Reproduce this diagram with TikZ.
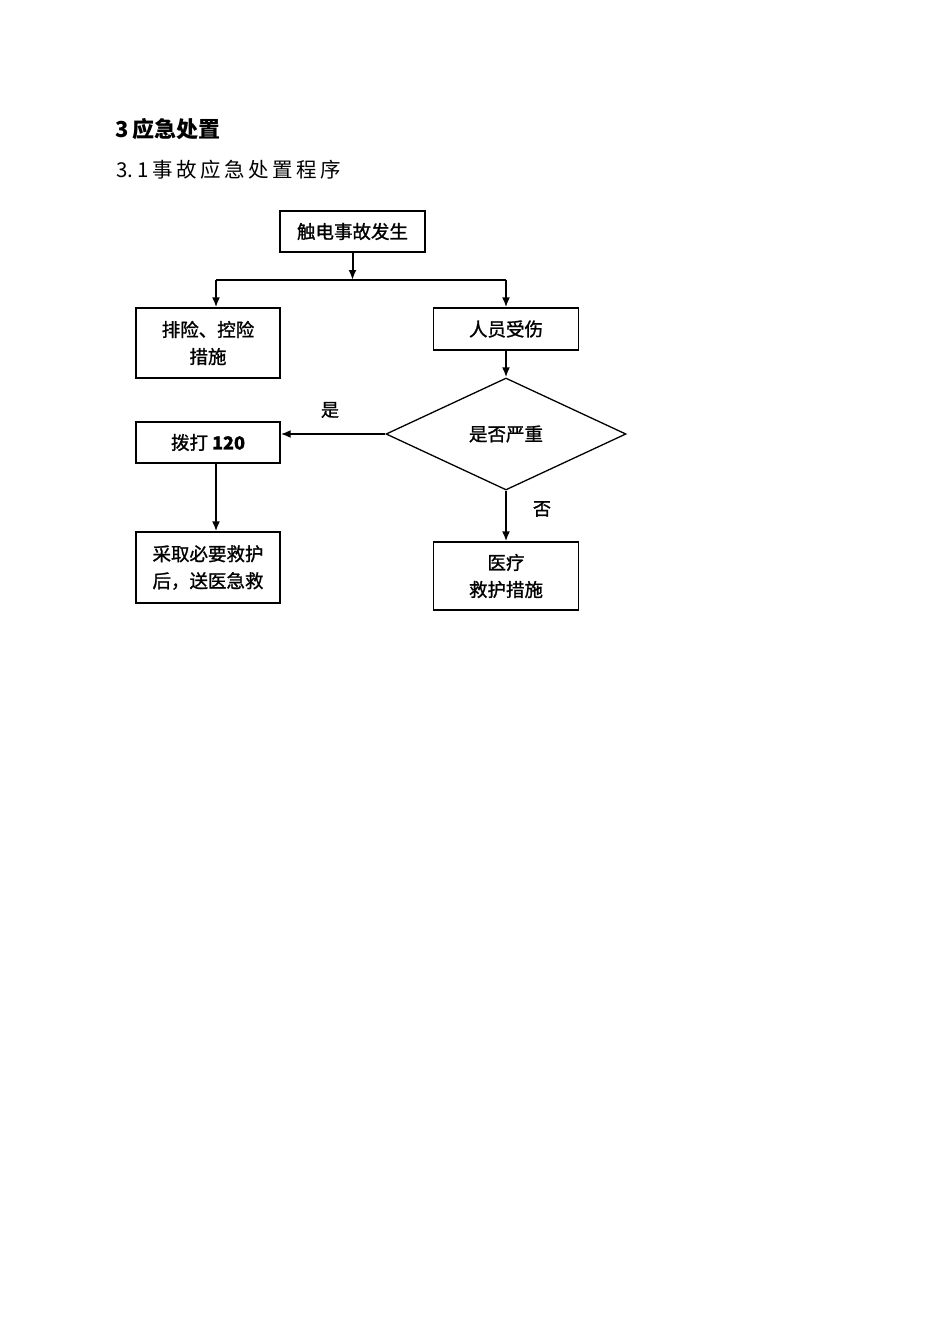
\documentclass[tikz,border=0pt]{standalone}
\usepackage{fontspec}
\setmainfont{Liberation Serif}
\newfontfamily\cjk{Noto Sans CJK SC}
\newfontfamily\cjkb[FakeBold=1.2]{Noto Sans CJK SC}
\usetikzlibrary{arrows.meta,shapes.geometric}
\begin{document}
\begin{tikzpicture}[x=1pt,y=-1pt,
  box/.style={draw,line width=1.3pt,inner sep=0pt,align=center,font=\cjkb\fontsize{18.5}{27}\selectfont},
  arr/.style={line width=2pt,-{Latex[length=10pt,width=8pt]}},
  lbl/.style={font=\cjkb\fontsize{18}{20}\selectfont}]
\useasboundingbox (0,0) rectangle (950,1344);
\fill[white] (0,0) rectangle (950,1344);
\node[anchor=west,font=\cjk\bfseries\fontsize{22}{24}\selectfont] (h1) at (112,129) {3\,应急处置};
\node[anchor=west,font=\cjk\fontsize{20.5}{24}\selectfont] (h2) at (113,170) {3.\,1 事\,故\,应\,急\,处\,置\,程\,序};
\node[box,minimum width=145pt,minimum height=41pt] (a) at (352.5,231.5) {触电事故发生};
\node[box,minimum width=144pt,minimum height=70pt] (b) at (208,343) {排险、控险\\措施};
\node[box,minimum width=145pt,minimum height=42pt] (c) at (506,329) {人员受伤};
\node[draw,line width=1.3pt,diamond,aspect=2.14,minimum width=240pt,minimum height=112pt,inner sep=0pt,font=\cjkb\fontsize{18.5}{20}\selectfont] (d) at (506,434) {是否严重};
\node[box,minimum width=144pt,minimum height=41pt] (e) at (208,442.5) {拨打 \textbf{\fontsize{18}{20}\selectfont 120}};
\node[box,minimum width=144pt,minimum height=71pt] (f) at (208,567.5) {采取必要救护\\后，送医急救};
\node[box,minimum width=145pt,minimum height=68pt] (g) at (506,576) {医疗\\救护措施};
\coordinate (j) at (352.5,280);
\coordinate (jl) at (216,280);
\coordinate (jr) at (506,280);
\draw[arr] (a.south) -- (j);
\draw[line width=2pt] (jl) -- (jr);
\draw[arr] (jl) -- (jl |- b.north);
\draw[arr] (jr) -- (c.north);
\draw[arr] (c.south) -- (d.north);
\draw[arr] (d.west) -- (d.west -| e.east);
\draw[arr] (e.south -| jl) -- (f.north -| jl);
\draw[arr] (d.south) -- (g.north);
\node[lbl] (yes) at (330,410) {是};
\node[lbl] (no) at (542,509) {否};
\end{tikzpicture}
\end{document}
